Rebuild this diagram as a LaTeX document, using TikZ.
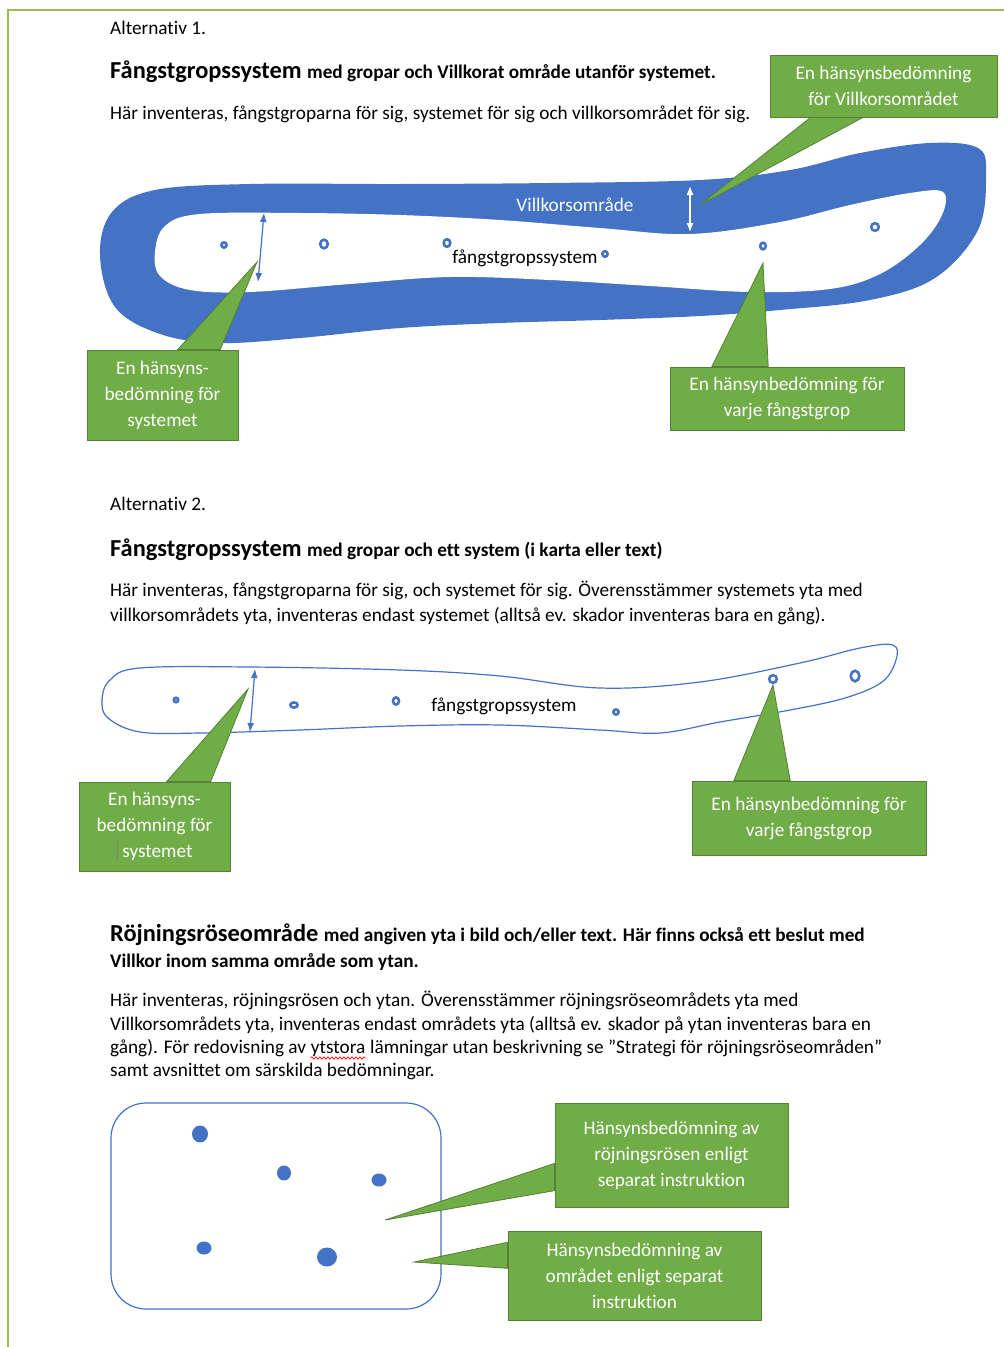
\documentclass[tikz,border=0pt]{standalone}
\usepackage{fontspec}
\setmainfont[Ligatures=NoCommon]{Carlito}
\usepackage{xcolor}
\usetikzlibrary{arrows.meta,calc,decorations.pathmorphing}

\definecolor{offblue}{HTML}{4472C4}
\definecolor{offgreen}{HTML}{70AD47}
\definecolor{greenedge}{HTML}{548235}
\definecolor{pageline}{HTML}{9BBB59}

\newcommand{\bodysize}{\fontsize{19.25}{25}\selectfont}
\newcommand{\headsize}{\fontsize{24.4}{28}\selectfont}

\begin{document}
\begin{tikzpicture}[x=1pt,y=-1pt,
        txt/.style={anchor=base west,inner sep=0pt,font=\bodysize},
        calloutbox/.style={fill=offgreen,draw=greenedge,line width=0.8pt,text=white,align=center,inner sep=0pt,font=\fontsize{19.25}{26}\selectfont},
        pointer/.style={fill=offgreen,draw=greenedge,line width=0.8pt},
        pitring/.style={draw=offblue,line width=2.6pt},
        dimarrow/.style={{Latex[length=9pt,width=7pt]}-{Latex[length=9pt,width=7pt]},line width=1.2pt}]
        \useasboundingbox (0,0) rectangle (1004,1347);
        \fill[white] (0,0) rectangle (1004,1347);

        % page edge
        \draw[pageline,line width=2pt] (7.5,1347) -- (7.5,9.5) -- (1004,9.5);

        % alternativ 1 text
        \node[txt] (altA) at (110,34) {Alternativ 1.};
        \node[txt] (titleA) at (110,78) {\bfseries\headsize Fångstgropssystem \bodysize med gropar och Villkorat område utanför systemet.};
        \node[txt] (parA) at (110,119) {Här inventeras, fångstgroparna för sig, systemet för sig och villkorsområdet för sig.};

        % villkorsområde band
        \fill[offblue] plot[smooth cycle,tension=0.6] coordinates {(100,255) (112,212) (155,190) (250,184) (400,184) (550,183) (700,180) (790,170) (860,153) (930,143) (978,148) (986,175) (978,230) (935,278) (870,300) (780,310) (700,316) (600,320) (500,323) (400,328) (300,338) (220,343) (160,334) (115,307)};
        \fill[white] plot[smooth cycle,tension=0.6] coordinates {(155,252) (165,226) (200,214) (300,213) (400,215) (500,220) (600,228) (690,234) (780,222) (850,205) (910,193) (943,192) (942,215) (920,245) (880,274) (830,289) (750,292) (650,286) (550,280) (450,277) (350,284) (250,292) (190,290) (160,276)};
        \node[font=\bodysize,text=white,inner sep=0pt] (villkLabel) at (575,205) {Villkorsområde};
        \node[font=\bodysize,inner sep=0pt] (systLabelA) at (525,258) {fångstgropssystem};

        % gropar
        \foreach \px/\py/\rx/\ry in {224/245/2.6/2.6, 324/244/3.8/4.3, 447/243/3.3/3.8, 605/254/2.6/2.8, 763/246/2.8/3.3, 875/227/3.8/3.8}
            \draw[pitring] (\px,\py) ellipse ({\rx pt} and {\ry pt});

        % widths
        \coordinate (bandTop) at (690,186);
        \coordinate (bandBot) at (690,232);
        \draw[dimarrow,white] (bandTop) -- (bandBot);
        \coordinate (systTopA) at (264,213);
        \coordinate (systBotA) at (258,282);
        \draw[dimarrow,offblue] (systTopA) -- (systBotA);

        % callouts, alternativ 1
        \node[calloutbox,minimum width=227pt,minimum height=62pt] (villkBox) at (883.5,86) {En hänsynsbedömning\\för Villkorsområdet};
        \coordinate (villkTip) at (700,205);
        \filldraw[pointer] ($(villkBox.south west)!0.18!(villkBox.south east)$) -- (villkTip) -- ($(villkBox.south west)!0.41!(villkBox.south east)$) -- cycle;

        \node[calloutbox,minimum width=151pt,minimum height=90pt] (systBoxA) at (162.5,395) {En hänsyns-\\bedömning för\\systemet};
        \coordinate (systTipA) at (257,262);
        \filldraw[pointer] ($(systBoxA.north west)!0.6!(systBoxA.north east)$) -- (systTipA) -- ($(systBoxA.north west)!0.88!(systBoxA.north east)$) -- cycle;

        \node[calloutbox,minimum width=234pt,minimum height=63pt] (gropBoxA) at (787,398.5) {En hänsynbedömning för\\varje fångstgrop};
        \coordinate (gropTipA) at (763,263);
        \filldraw[pointer] ($(gropBoxA.north west)!0.18!(gropBoxA.north east)$) -- (gropTipA) -- ($(gropBoxA.north west)!0.42!(gropBoxA.north east)$) -- cycle;

        % alternativ 2 text
        \node[txt] (altB) at (110,510) {Alternativ 2.};
        \node[txt] (titleB) at (110,556) {\bfseries\headsize Fångstgropssystem \bodysize med gropar och ett system (i karta eller text)};
        \node[txt] (parB1) at (110,596) {Här inventeras, fångstgroparna för sig, och systemet för sig. Överensstämmer systemets yta med};
        \node[txt] (parB2) at (110,621) {villkorsområdets yta, inventeras endast systemet (alltså ev. skador inventeras bara en gång).};

        % system outline
        \draw[offblue,line width=1.2pt] plot[smooth cycle,tension=0.6] coordinates {(102,700) (110,680) (140,668) (250,667) (400,670) (500,676) (600,688) (700,682) (800,663) (860,648) (893,645) (896,660) (882,682) (845,698) (790,710) (720,722) (660,733) (600,730) (500,725) (400,726) (300,730) (200,733) (140,732) (108,718)};
        \node[font=\bodysize,inner sep=0pt] (systLabelB) at (504,706) {fångstgropssystem};
        \foreach \px/\py/\rx/\ry in {176/700/2.2/2.2, 294/705/3.6/2.6, 396/701/3/3.6, 616/712/2.6/2.6, 773/679/3.8/3.8, 855/676/4.3/5.3}
            \draw[pitring] (\px,\py) ellipse ({\rx pt} and {\ry pt});
        \coordinate (systTopB) at (255,669);
        \coordinate (systBotB) at (250,732);
        \draw[dimarrow,offblue] (systTopB) -- (systBotB);

        % callouts, alternativ 2
        \node[calloutbox,minimum width=151pt,minimum height=89pt] (systBoxB) at (154.5,826.5) {En hänsyns-\\bedömning för\\{\color{gray}\rule[-4pt]{0.8pt}{20pt}}\hspace{5pt}systemet};
        \coordinate (systTipB) at (248,689);
        \filldraw[pointer] ($(systBoxB.north west)!0.58!(systBoxB.north east)$) -- (systTipB) -- ($(systBoxB.north west)!0.87!(systBoxB.north east)$) -- cycle;

        \node[calloutbox,minimum width=234pt,minimum height=74pt] (gropBoxB) at (809,818) {En hänsynbedömning för\\varje fångstgrop};
        \coordinate (gropTipB) at (773,685);
        \filldraw[pointer] ($(gropBoxB.north west)!0.18!(gropBoxB.north east)$) -- (gropTipB) -- ($(gropBoxB.north west)!0.42!(gropBoxB.north east)$) -- cycle;

        % röjningsröseområde text
        \node[txt] (titleC1) at (110,941) {\bfseries\headsize Röjningsröseområde \bodysize med angiven yta i bild och/eller text. Här finns också ett beslut med};
        \node[txt] (titleC2) at (110,967) {\bfseries Villkor inom samma område som ytan.};
        \node[txt] (parC1) at (110,1006) {Här inventeras, röjningsrösen och ytan. Överensstämmer röjningsröseområdets yta med};
        \node[txt] (parC2) at (110,1030) {Villkorsområdets yta, inventeras endast områdets yta (alltså ev. skador på ytan inventeras bara en};
        \node[txt] (parC3) at (110,1053) {gång). För redovisning av};
        \node[txt] (ytstoraWord) at ($(parC3.base east)+(4.35,0)$) {ytstora};
        \node[txt] (parC3b) at ($(ytstoraWord.base east)+(4.35,0)$) {lämningar utan beskrivning se ”Strategi för röjningsröseområden”};
        \draw[red,line width=0.7pt,decorate,decoration={snake,amplitude=1.2pt,segment length=4pt}] ($(ytstoraWord.base west)+(0,5)$) -- ($(ytstoraWord.base east)+(0,5)$);
        \node[txt] (parC4) at (110,1076) {samt avsnittet om särskilda bedömningar.};

        % area with rösen
        \draw[offblue,line width=1.2pt,rounded corners=35pt] (111,1103) rectangle (441,1309);
        \foreach \px/\py/\rx/\ry in {200/1134/8/8.5, 284/1173/7/7.5, 379/1180/7.5/6.5, 204/1248/7.5/6.5, 327/1257/10/9.5}
            \fill[offblue] (\px,\py) ellipse ({\rx pt} and {\ry pt});

        % callouts, röjningsröseområde
        \node[calloutbox,minimum width=233pt,minimum height=104pt] (roseBox) at (671.5,1155) {Hänsynsbedömning av\\röjningsrösen enligt\\separat instruktion};
        \coordinate (roseTip) at (385,1220);
        \filldraw[pointer] ($(roseBox.north west)!0.58!(roseBox.south west)$) -- (roseTip) -- ($(roseBox.north west)!0.84!(roseBox.south west)$) -- cycle;

        \node[calloutbox,minimum width=253pt,minimum height=89pt] (ytaBox) at (634.5,1275.5) {Hänsynsbedömning av\\området enligt separat\\instruktion};
        \coordinate (ytaTip) at (414,1262);
        \filldraw[pointer] ($(ytaBox.north west)!0.13!(ytaBox.south west)$) -- (ytaTip) -- ($(ytaBox.north west)!0.42!(ytaBox.south west)$) -- cycle;
\end{tikzpicture}
\end{document}
